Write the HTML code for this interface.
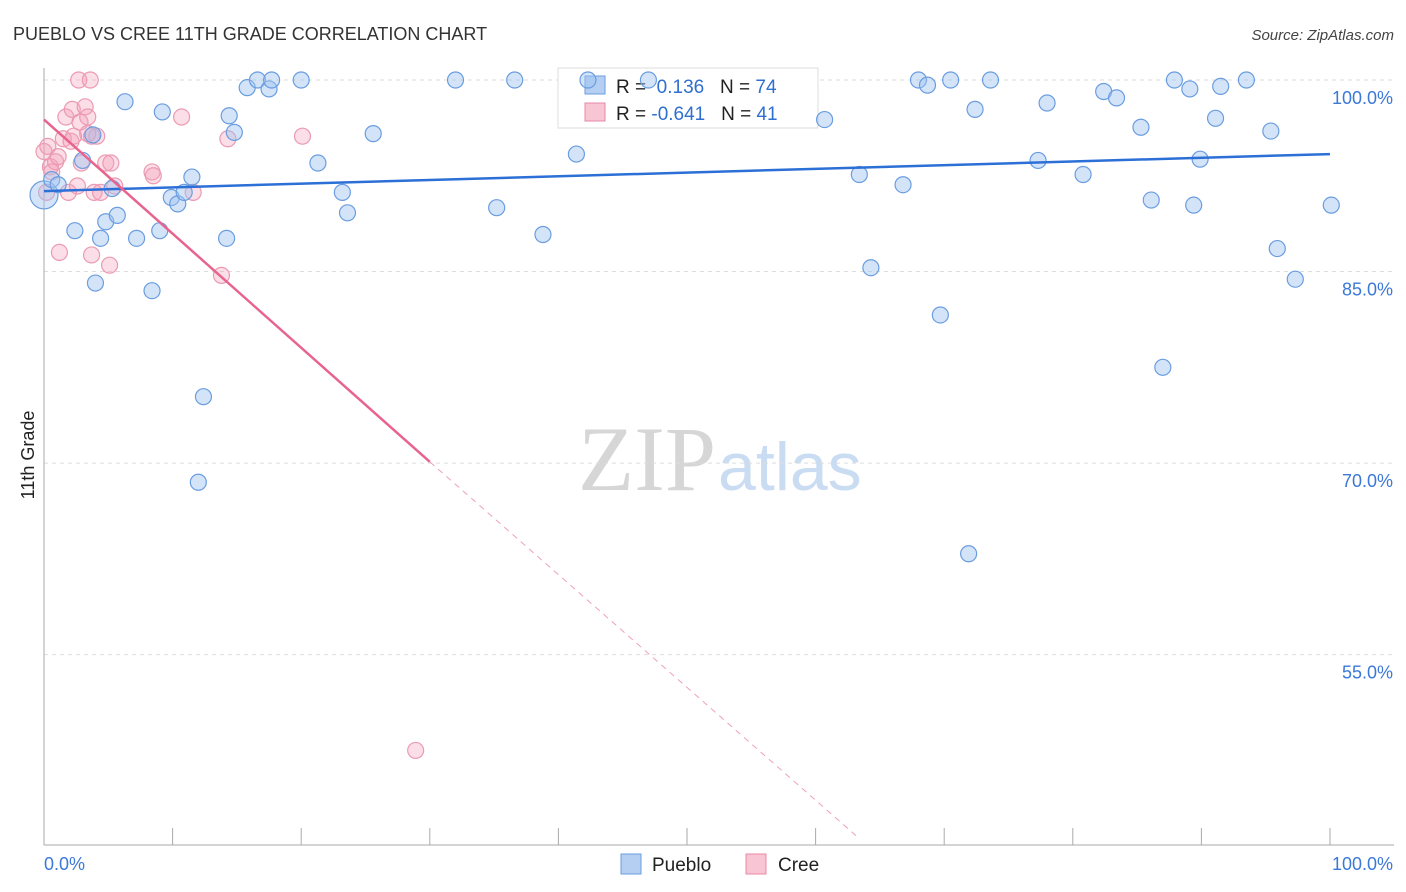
<!DOCTYPE html>
<html><head><meta charset="utf-8"><style>
body{margin:0;background:#fff;font-family:"Liberation Sans",sans-serif}
svg{display:block}
</style></head><body>
<svg id="c" width="1406" height="892" xmlns="http://www.w3.org/2000/svg">
<text x="13" y="40" font-size="18" fill="#333">PUEBLO VS CREE 11TH GRADE CORRELATION CHART</text>
<text x="1394" y="40" font-size="15" font-style="italic" fill="#444" text-anchor="end">Source: ZipAtlas.com</text>
<text x="716" y="490" font-size="92" font-family="Liberation Serif,serif" fill="#d6d6d6" text-anchor="end">ZIP</text>
<text x="718" y="490" font-size="68" fill="#c9dcf2">atlas</text>
<text x="34" y="455" font-size="18" fill="#222" transform="rotate(-90 34 455)" text-anchor="middle">11th Grade</text>
<g id="grid"></g>
<g>
<rect x="558" y="68" width="260" height="60" fill="#fff" stroke="#ddd"/>
<rect x="585" y="76" width="20" height="18" fill="#b4cff2" stroke="#6b9ee0"/>
<text x="616" y="93" font-size="19" fill="#222">R = <tspan fill="#2f6fd0">&#160;0.136</tspan>&#160;&#160;&#160;N = <tspan fill="#2f6fd0">74</tspan></text>
<rect x="585" y="103" width="20" height="18" fill="#f8c5d4" stroke="#e888a5"/>
<text x="616" y="120" font-size="19" fill="#222">R = <tspan fill="#2f6fd0">-0.641</tspan>&#160;&#160;&#160;N = <tspan fill="#2f6fd0">41</tspan></text>
</g>
<g id="pts"></g><g id="lines"></g>
<g>
<rect x="621" y="854" width="20" height="20" fill="#b4cff2" stroke="#6b9ee0"/>
<text x="652" y="871" font-size="19" fill="#222">Pueblo</text>
<rect x="746" y="854" width="20" height="20" fill="#f8c5d4" stroke="#e888a5"/>
<text x="778" y="871" font-size="19" fill="#222">Cree</text>
</g>
<text x="44" y="870" font-size="18" fill="#3b78d8">0.0%</text>
<text x="1393" y="870" font-size="18" fill="#3b78d8" text-anchor="end">100.0%</text>
</svg>
<script>
const yTicks=[100,85,70,55];
const xTicks=[0,10,20,30,40,50,60,70,80,90,100];
const puebloX=[0,0.6,1.1,2.4,3,3.8,4,4.4,4.8,5.3,5.7,6.3,7.2,8.4,9,9.2,9.9,10.4,10.9,11.5,12.4,12,14.2,14.4,14.8,15.8,16.6,17.5,17.7,20,21.3,23.2,23.6,25.6,32,35.2,36.6,38.8,41.4,42.3,47,60.7,63.4,64.3,66.8,68,68.7,69.7,70.5,71.9,72.4,73.6,77.3,78,80.8,82.4,83.4,85.3,86.1,87,87.9,89.1,89.4,89.9,91.1,91.5,93.5,95.4,95.9,97.3,100.1];
const puebloY=[91,92.2,91.8,88.2,93.7,95.7,84.1,87.6,88.9,91.5,89.4,98.3,87.6,83.5,88.2,97.5,90.8,90.3,91.2,92.4,75.2,68.5,87.6,97.2,95.9,99.4,100,99.3,100,100,93.5,91.2,89.6,95.8,100,90,100,87.9,94.2,100,100,96.9,92.6,85.3,91.8,100,99.6,81.6,100,62.9,97.7,100,93.7,98.2,92.6,99.1,98.6,96.3,90.6,77.5,100,99.3,90.2,93.8,97,99.5,100,96,86.8,84.4,90.2];
const puebloR=[14,8,8,8,8,8,8,8,8,8,8,8,8,8,8,8,8,8,8,8,8,8,8,8,8,8,8,8,8,8,8,8,8,8,8,8,8,8,8,8,8,8,8,8,8,8,8,8,8,8,8,8,8,8,8,8,8,8,8,8,8,8,8,8,8,8,8,8,8,8,8];
const creeX=[0,0.3,0.5,0.6,0.9,1.1,1.2,1.5,1.7,1.9,2.1,2.2,2.3,2.6,2.7,2.8,2.9,3.2,3.4,3.6,3.7,3.7,3.9,4.1,4.4,4.8,5.1,5.2,5.5,8.4,8.5,10.7,11.6,13.8,14.3,20.1,28.9,3.4,0.2];
const creeY=[94.4,94.8,93.2,92.8,93.6,94,86.5,95.4,97.1,91.2,95.2,97.7,95.6,91.7,100,96.7,93.5,97.9,97.1,100,86.3,95.6,91.2,95.6,91.2,93.5,85.5,93.5,91.7,92.8,92.5,97.1,91.2,84.7,95.4,95.6,47.5,95.8,91.2];
const puebloLine=[[0,91.3],[100,94.2]];
const creeLineSolid=[[0,96.9],[30,70.1]];
const creeLineDash=[[30,70.1],[63.4,40.6]];
const X=v=>44+v*12.86, Y=v=>80+(100-v)*12.77;
const NS="http://www.w3.org/2000/svg";
function mk(t,a,p){const e=document.createElementNS(NS,t);for(const k in a)e.setAttribute(k,a[k]);p.appendChild(e);return e;}
const g=document.getElementById('grid');
yTicks.forEach(t=>{const l=mk('line',{x1:44,x2:1394,y1:Y(t),y2:Y(t),stroke:'#ddd','stroke-dasharray':'4 4'},g);


const tx=mk('text',{x:1393,y:Y(t)+24,'font-size':18,fill:'#3b78d8','text-anchor':'end'},g);tx.textContent=t.toFixed(1)+'%';

});
const ax=mk('line',{x1:44,x2:44,y1:68,y2:845,stroke:'#aaa'},g);


const bx=mk('line',{x1:44,x2:1394,y1:845,y2:845,stroke:'#aaa'},g);


xTicks.forEach(t=>{const l=mk('line',{x1:X(t),x2:X(t),y1:828,y2:845,stroke:'#aaa'},g);

});
const p=document.getElementById('pts');
creeX.forEach((v,i)=>{const c=mk('circle',{cx:X(v),cy:Y(creeY[i]),r:8,fill:'rgba(244,160,185,0.35)',stroke:'#eb9ab2','stroke-width':1.2},p);

});
puebloX.forEach((v,i)=>{const c=mk('circle',{cx:X(v),cy:Y(puebloY[i]),r:puebloR[i]||8,fill:'rgba(160,195,240,0.45)',stroke:'#6a9de0','stroke-width':1.2},p);

});
const L=document.getElementById('lines');
function ln(d,st,name){const e=mk('line',Object.assign({x1:X(d[0][0]),y1:Y(d[0][1]),x2:X(d[1][0]),y2:Y(d[1][1])},st),L);

}
ln(puebloLine,{stroke:'#2c6fd6','stroke-width':2.5},'pueblo-trendline');
ln(creeLineSolid,{stroke:'#e8648e','stroke-width':2.5},'cree-trendline');
ln(creeLineDash,{stroke:'#eea0b8','stroke-width':1,'stroke-dasharray':'6 5'},'cree-trendline-extension');
</script>
</body></html>
